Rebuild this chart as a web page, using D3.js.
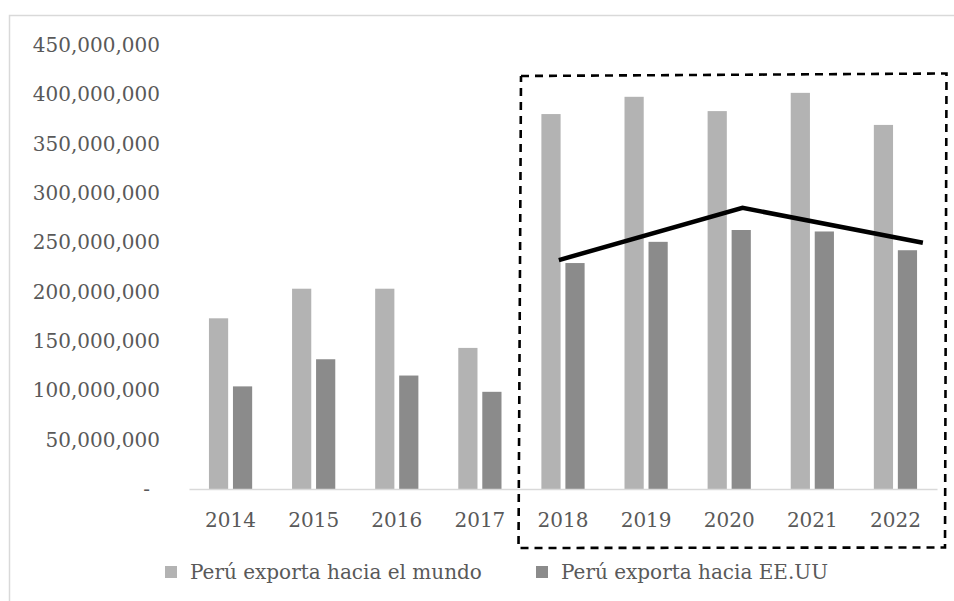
<!DOCTYPE html>
<html>
<head>
<meta charset="utf-8">
<script src="https://cdn.jsdelivr.net/npm/d3@7"></script>
<style>
  body { margin: 0; background: #fff; }
  svg { display: block; font-family: "DejaVu Serif", serif; }
  .axis text { fill: #595959; font-size: 20px; font-family: "DejaVu Serif", serif; }
</style>
</head>
<body>
<svg width="954" height="601"></svg>
<script>
var width = 954;
var height = 601;

// data
const years = ["2014", "2015", "2016", "2017", "2018", "2019", "2020", "2021", "2022"];
const series = ["Perú exporta hacia el mundo", "Perú exporta hacia EE.UU"];
const mundo = [173e6, 203e6, 203e6, 143e6, 380e6, 397.5e6, 383e6, 401.5e6, 369e6];
const eeuu = [104e6, 131.5e6, 115e6, 98.5e6, 229e6, 250.5e6, 262.5e6, 261e6, 242e6];
const yTicks = [0, 50e6, 100e6, 150e6, 200e6, 250e6, 300e6, 350e6, 400e6, 450e6];
// hand drawn trend line over 2018-2022, position in category units
const trendPos = [3.95, 6.16, 8.33];
const trendVal = [232e6, 285e6, 249.5e6];

const colors = ["#b3b3b3", "#8b8b8b"];

const margin = {left: 189, right: 17, top: 45, bottom: 112};

const svg = d3.select("svg")
    .attr("viewBox", [0, 0, width, height]);

// thin chart frame (runs off the right and bottom)
svg.append("rect")
    .attr("x", 9.5).attr("y", 15.5)
    .attr("width", 1000).attr("height", 1000)
    .attr("fill", "none")
    .attr("stroke", "#d9d9d9")
    .attr("stroke-width", 1.5);

const x0 = d3.scaleBand()
    .domain(years)
    .range([margin.left, width - margin.right])
    .paddingInner(0.48)
    .paddingOuter(0.24);

const x1 = d3.scaleBand()
    .domain(series)
    .range([0, x0.bandwidth()])
    .paddingInner(0.2);

const y = d3.scaleLinear()
    .domain([0, 450e6])
    .range([height - margin.bottom, margin.top]);

// linear position in category units, for the trend line
const xPos = d3.scaleLinear()
    .domain([0, years.length - 1])
    .range([x0(years[0]) + x0.bandwidth() / 2, x0(years[years.length - 1]) + x0.bandwidth() / 2]);

// y axis
const fmt = d3.format(",");
const yAxis = svg.append("g")
    .attr("class", "axis")
    .attr("transform", "translate(" + margin.left + ",0)")
    .call(d3.axisLeft(y).tickValues(yTicks).tickSize(0).tickPadding(29)
        .tickFormat(function(d) { return d === 0 ? "-" : fmt(d); }));
yAxis.select(".domain").remove();
yAxis.selectAll(".tick text")
    .attr("dx", function(d) { return d === 0 ? -10 : 0; });

// bars
const rows = years.map(function(yr, i) {
    return {year: yr, values: [mundo[i], eeuu[i]]};
});

svg.append("g")
    .selectAll("g")
    .data(rows)
    .enter().append("g")
    .attr("transform", function(d) { return "translate(" + x0(d.year) + ",0)"; })
    .selectAll("rect")
    .data(function(d) { return d.values.map(function(v, j) { return {key: series[j], value: v, j: j}; }); })
    .enter().append("rect")
    .attr("x", function(d) { return x1(d.key); })
    .attr("y", function(d) { return y(d.value); })
    .attr("width", x1.bandwidth())
    .attr("height", function(d) { return y(0) - y(d.value); })
    .attr("fill", function(d) { return colors[d.j]; });

// x axis
const xAxis = svg.append("g")
    .attr("class", "axis")
    .attr("transform", "translate(0," + y(0) + ")")
    .call(d3.axisBottom(x0).tickSize(0).tickPadding(24).tickSizeOuter(0));
xAxis.select(".domain")
    .attr("stroke", "#d9d9d9")
    .attr("stroke-width", 1.5);

// trend line
const trend = trendPos.map(function(p, i) { return [xPos(p), y(trendVal[i])]; });
svg.append("path")
    .attr("d", d3.line()(trend))
    .attr("fill", "none")
    .attr("stroke", "#000")
    .attr("stroke-width", 4.5)
    .attr("stroke-linejoin", "miter");

// dashed highlight box around 2018-2022
const boxPts = [[521, 76], [946.5, 73.5], [945, 547.5], [518.5, 548], [521, 76]];
svg.append("path")
    .attr("d", d3.line()(boxPts))
    .attr("fill", "none")
    .attr("stroke", "#000")
    .attr("stroke-width", 2.6)
    .attr("stroke-dasharray", "8,6");

// legend
const legendX = [165, 536];
const legend = svg.append("g")
    .selectAll("g")
    .data(series)
    .enter().append("g")
    .attr("transform", function(d, i) { return "translate(" + legendX[i] + ",566)"; });
legend.append("rect")
    .attr("width", 12).attr("height", 12)
    .attr("fill", function(d, i) { return colors[i]; });
legend.append("text")
    .attr("x", 25).attr("y", 13)
    .attr("fill", "#595959")
    .attr("font-size", 20)
    .text(function(d) { return d; });
</script>
</body>
</html>
